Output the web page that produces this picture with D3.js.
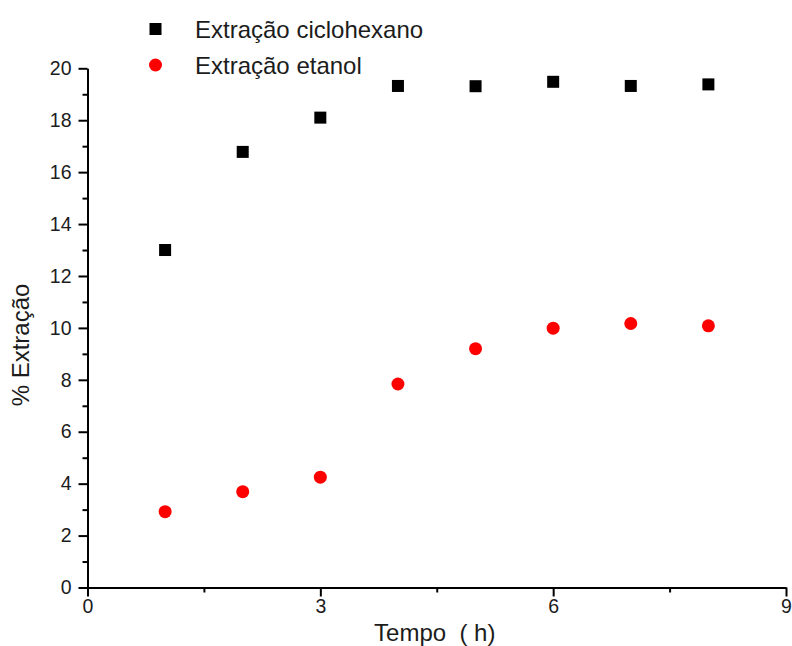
<!DOCTYPE html>
<html>
<head>
<meta charset="utf-8">
<script src="https://cdn.jsdelivr.net/npm/d3@7"></script>
<style>
  html, body { margin: 0; padding: 0; background: #fff; }
  svg { display: block; }
  text { font-family: "Liberation Sans", Arial, sans-serif; }
</style>
</head>
<body>
<svg id="chart" width="792" height="646"></svg>
<script>
// ---- data ----
const tempo = [1, 2, 3, 4, 5, 6, 7, 8];
const ciclohexano = [13.0, 16.78, 18.1, 19.32, 19.31, 19.48, 19.32, 19.38];
const etanol = [2.92, 3.69, 4.25, 7.84, 9.2, 9.99, 10.17, 10.08];
const seriesNames = ["Extração ciclohexano", "Extração etanol"];
const xTicks = [0, 3, 6, 9];
const xMinor = [1.5, 4.5, 7.5];
const yTicks = [0, 2, 4, 6, 8, 10, 12, 14, 16, 18, 20];
const yMinor = [1, 3, 5, 7, 9, 11, 13, 15, 17, 19];
const xTitle = "Tempo  ( h)";
const yTitle = "% Extração";

const svg = d3.select("#chart");
const x = d3.scaleLinear().domain([0, 9]).range([87.5, 786]);
const y = d3.scaleLinear().domain([0, 20]).range([587.5, 68.3]);
const textColor = "#1c1c1c";

// x axis
const gx = svg.append("g").attr("transform", `translate(0,${y(0)})`);
gx.call(d3.axisBottom(x).tickValues(xTicks).tickFormat(d3.format("d")).tickSize(9).tickSizeOuter(0).tickPadding(3));
gx.append("g").call(d3.axisBottom(x).tickValues(xMinor).tickFormat("").tickSize(5).tickSizeOuter(0))
  .select(".domain").remove();
// y axis
const gy = svg.append("g").attr("transform", `translate(${x(0)},0)`);
gy.call(d3.axisLeft(y).tickValues(yTicks).tickFormat(d3.format("d")).tickSize(9).tickSizeOuter(0).tickPadding(7));
gy.append("g").call(d3.axisLeft(y).tickValues(yMinor).tickFormat("").tickSize(5).tickSizeOuter(0))
  .select(".domain").remove();

svg.selectAll(".domain").attr("stroke", "#000").attr("stroke-width", 2);
svg.selectAll(".tick line").attr("stroke", "#000").attr("stroke-width", 2);
svg.selectAll(".tick text").attr("font-size", 19.5).attr("fill", textColor)
  .attr("font-family", "Liberation Sans, Arial, sans-serif");

// titles
svg.append("text")
  .attr("x", x(4.5) - 2).attr("y", 641)
  .attr("text-anchor", "middle").attr("font-size", 24).attr("fill", textColor)
  .style("white-space", "pre")
  .text(xTitle);
svg.append("text")
  .attr("transform", `translate(29,${345}) rotate(-90)`)
  .attr("text-anchor", "middle").attr("font-size", 24).attr("fill", textColor)
  .text(yTitle);

// points
const sq = 12;
svg.append("g").selectAll("rect").data(tempo.map((t, i) => [t, ciclohexano[i]]))
  .join("rect")
  .attr("x", d => x(d[0]) - sq / 2).attr("y", d => y(d[1]) - sq / 2)
  .attr("width", sq).attr("height", sq).attr("fill", "#000");
svg.append("g").selectAll("circle").data(tempo.map((t, i) => [t, etanol[i]]))
  .join("circle")
  .attr("cx", d => x(d[0])).attr("cy", d => y(d[1]))
  .attr("r", 6.5).attr("fill", "#ff0000");

// legend
const lg = svg.append("g");
lg.append("rect").attr("x", 155.5 - sq / 2).attr("y", 29 - sq / 2).attr("width", sq).attr("height", sq).attr("fill", "#000");
lg.append("circle").attr("cx", 155.5).attr("cy", 65).attr("r", 6.5).attr("fill", "#ff0000");
lg.append("text").attr("x", 195).attr("y", 38).attr("font-size", 24).attr("fill", textColor).text(seriesNames[0]);
lg.append("text").attr("x", 195).attr("y", 74).attr("font-size", 24).attr("fill", textColor).text(seriesNames[1]);
</script>
</body>
</html>
